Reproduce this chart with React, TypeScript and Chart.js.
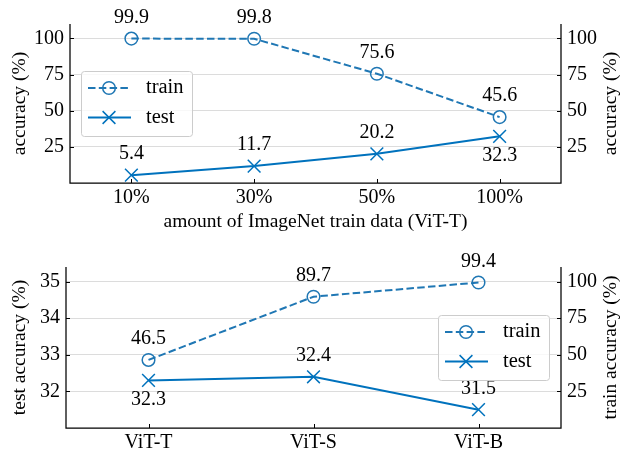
import { useEffect, useRef } from 'react';
import { Chart, registerables } from 'chart.js';

Chart.register(...registerables);

const FONT_FAMILY = '"Liberation Serif", "Times New Roman", serif';
const TICK_SIZE = 20;
const TITLE_SIZE = 19.5;
const LABEL_SIZE = 20;
const LEGEND_SIZE = 20.5;
const TRAIN_COLOR = '#1f77b4';
const TEST_COLOR = '#0072bd';
const GRID_COLOR = '#dcdcdc';

// ---- top panel data ----
const TOP_CATEGORIES = ['10%', '30%', '50%', '100%'];
const TOP_TRAIN = [99.9, 99.8, 75.6, 45.6];
const TOP_TEST = [5.4, 11.7, 20.2, 32.3];
const TOP_TRAIN_LABEL_SIDE = ['above', 'above', 'above', 'above'];
const TOP_TEST_LABEL_SIDE = ['above', 'above', 'above', 'below'];
const TOP_Y_TICKS = [25, 50, 75, 100];
const TOP_Y_MIN = 0;
const TOP_Y_MAX = 110;

// ---- bottom panel data ----
const BOTTOM_CATEGORIES = ['ViT-T', 'ViT-S', 'ViT-B'];
const BOTTOM_TRAIN = [46.5, 89.7, 99.4];
const BOTTOM_TEST = [32.3, 32.4, 31.5];
const BOTTOM_TRAIN_LABEL_SIDE = ['above', 'above', 'above'];
const BOTTOM_TEST_LABEL_SIDE = ['below', 'above', 'above'];
const BOTTOM_LEFT_TICKS = [32, 33, 34, 35];
const BOTTOM_LEFT_MIN = 31;
const BOTTOM_LEFT_MAX = 35.4;
const BOTTOM_RIGHT_TICKS = [25, 50, 75, 100];
const BOTTOM_RIGHT_MIN = 0;
const BOTTOM_RIGHT_MAX = 110;

const W = 621;
const TOP_H = 240;
const BOTTOM_TOP = 226;
const BOTTOM_H = 226;

type DecorCfg = {
  leftTitle: string;
  rightTitle: string;
  xTitle?: string;
  xTitleY?: number;
  legendX: number; // relative to chart area left (if >=0) or right (if <0)
  legendY: number; // relative to chart area top
};

function font(size: number) {
  return `${size}px ${FONT_FAMILY}`;
}

function makeDecor(cfg: DecorCfg) {
  return {
    id: 'decor',
    afterDatasetsDraw(chart: any) {
      const ctx: CanvasRenderingContext2D = chart.ctx;
      const a = chart.chartArea;
      ctx.save();

      // spines
      ctx.strokeStyle = '#000';
      ctx.lineWidth = 1.25;
      ctx.beginPath();
      ctx.moveTo(a.left, a.top);
      ctx.lineTo(a.left, a.bottom);
      ctx.lineTo(a.right, a.bottom);
      ctx.lineTo(a.right, a.top);
      ctx.stroke();

      // inward ticks
      ctx.lineWidth = 1;
      ctx.beginPath();
      const xs = chart.scales.x;
      xs.ticks.forEach((_t: any, i: number) => {
        const px = Math.round(xs.getPixelForTick(i)) + 0.5;
        ctx.moveTo(px, a.bottom);
        ctx.lineTo(px, a.bottom - 4);
      });
      const ys = chart.scales.y;
      ys.ticks.forEach((_t: any, i: number) => {
        const py = Math.round(ys.getPixelForTick(i)) + 0.5;
        ctx.moveTo(a.left, py);
        ctx.lineTo(a.left + 4, py);
      });
      const y2 = chart.scales.y2;
      y2.ticks.forEach((_t: any, i: number) => {
        const py = Math.round(y2.getPixelForTick(i)) + 0.5;
        ctx.moveTo(a.right, py);
        ctx.lineTo(a.right - 4, py);
      });
      ctx.stroke();

      // data labels
      ctx.fillStyle = '#000';
      ctx.font = font(LABEL_SIZE);
      ctx.textAlign = 'center';
      ctx.textBaseline = 'middle';
      chart.data.datasets.forEach((ds: any, di: number) => {
        const meta = chart.getDatasetMeta(di);
        meta.data.forEach((pt: any, j: number) => {
          const side = ds.labelSide[j];
          const off = side === 'above' ? -21 : 19;
          ctx.fillText(Number(ds.data[j]).toFixed(1), pt.x, pt.y + off);
        });
      });

      // axis titles
      ctx.font = font(TITLE_SIZE);
      const midY = (a.top + a.bottom) / 2;
      ctx.save();
      ctx.translate(20, midY);
      ctx.rotate(-Math.PI / 2);
      ctx.fillText(cfg.leftTitle, 0, 0);
      ctx.restore();
      ctx.save();
      ctx.translate(611, midY);
      ctx.rotate(-Math.PI / 2);
      ctx.fillText(cfg.rightTitle, 0, 0);
      ctx.restore();
      if (cfg.xTitle) {
        ctx.fillText(cfg.xTitle, (a.left + a.right) / 2, cfg.xTitleY || 0);
      }

      // legend
      const lw = 111;
      const lh = 65;
      const lx = cfg.legendX >= 0 ? a.left + cfg.legendX : a.right + cfg.legendX - lw;
      const ly = a.top + cfg.legendY;
      ctx.beginPath();
      (ctx as any).roundRect(lx + 0.5, ly + 0.5, lw, lh, 3);
      ctx.fillStyle = 'rgba(255,255,255,0.8)';
      ctx.fill();
      ctx.strokeStyle = '#cccccc';
      ctx.lineWidth = 1;
      ctx.stroke();

      const rows = [
        { label: 'train', color: TRAIN_COLOR, dash: [7.5, 3.3], marker: 'circle' },
        { label: 'test', color: TEST_COLOR, dash: [], marker: 'x' },
      ];
      rows.forEach((r, i) => {
        const cy = ly + 17 + i * 29.5;
        ctx.strokeStyle = r.color;
        ctx.lineWidth = 2;
        ctx.setLineDash(r.dash);
        ctx.beginPath();
        ctx.moveTo(lx + 7, cy);
        ctx.lineTo(lx + 50, cy);
        ctx.stroke();
        ctx.setLineDash([]);
        const mx = lx + 28;
        ctx.lineWidth = 1.5;
        ctx.beginPath();
        if (r.marker === 'circle') {
          ctx.arc(mx, cy, 6.3, 0, Math.PI * 2);
        } else {
          const d = 6.4;
          ctx.moveTo(mx - d, cy - d);
          ctx.lineTo(mx + d, cy + d);
          ctx.moveTo(mx + d, cy - d);
          ctx.lineTo(mx - d, cy + d);
        }
        ctx.stroke();
        ctx.fillStyle = '#000';
        ctx.font = font(LEGEND_SIZE);
        ctx.textAlign = 'left';
        ctx.textBaseline = 'middle';
        ctx.fillText(r.label, lx + 65, cy);
      });

      ctx.restore();
    },
  };
}

function lineDataset(label: string, data: number[], side: string[], color: string, dashed: boolean, yAxisID: string) {
  return {
    label,
    data,
    labelSide: side,
    yAxisID,
    borderColor: color,
    backgroundColor: 'rgba(0,0,0,0)',
    borderWidth: 2,
    borderDash: dashed ? [7.5, 3.3] : [],
    pointStyle: dashed ? 'circle' : 'crossRot',
    pointRadius: dashed ? 6.3 : 9,
    pointHoverRadius: dashed ? 6.3 : 9,
    pointBorderWidth: 1.5,
    pointBorderColor: color,
    pointBackgroundColor: 'rgba(0,0,0,0)',
    tension: 0,
    clip: false as any,
  };
}

function yScale(position: 'left' | 'right', min: number, max: number, ticks: number[], width: number, grid: boolean) {
  return {
    position,
    min,
    max,
    afterBuildTicks: (s: any) => {
      s.ticks = ticks.map((v) => ({ value: v }));
    },
    afterFit: (s: any) => {
      s.width = width;
    },
    grid: { display: grid, drawTicks: false, color: GRID_COLOR, lineWidth: 1 },
    border: { display: false },
    ticks: {
      font: { family: FONT_FAMILY, size: TICK_SIZE },
      color: '#000',
      padding: 6,
      callback: (v: any) => String(v),
    },
  };
}

function xScale(height: number) {
  return {
    type: 'category' as const,
    offset: true,
    afterFit: (s: any) => {
      s.height = height;
    },
    grid: { display: false, drawTicks: false },
    border: { display: false },
    ticks: {
      font: { family: FONT_FAMILY, size: TICK_SIZE },
      color: '#000',
      padding: 3,
      maxRotation: 0,
    },
  };
}

function TopPanel() {
  const ref = useRef<HTMLCanvasElement | null>(null);
  useEffect(() => {
    if (!ref.current) return;
    const chart = new Chart(ref.current, {
      type: 'line',
      data: {
        labels: TOP_CATEGORIES,
        datasets: [
          lineDataset('train', TOP_TRAIN, TOP_TRAIN_LABEL_SIDE, TRAIN_COLOR, true, 'y'),
          lineDataset('test', TOP_TEST, TOP_TEST_LABEL_SIDE, TEST_COLOR, false, 'y'),
        ] as any,
      },
      options: {
        responsive: false,
        animation: false,
        devicePixelRatio: 1,
        layout: { padding: { top: 24, left: 0, right: 0, bottom: 0 } },
        plugins: { legend: { display: false }, tooltip: { enabled: false } },
        scales: {
          x: xScale(TOP_H - 183),
          y: yScale('left', TOP_Y_MIN, TOP_Y_MAX, TOP_Y_TICKS, 70, true),
          y2: yScale('right', TOP_Y_MIN, TOP_Y_MAX, TOP_Y_TICKS, 60, false),
        } as any,
      },
      plugins: [
        makeDecor({
          leftTitle: 'accuracy (%)',
          rightTitle: 'accuracy (%)',
          xTitle: 'amount of ImageNet train data (ViT-T)',
          xTitleY: 222,
          legendX: 11,
          legendY: 47,
        }),
      ],
    });
    return () => chart.destroy();
  }, []);
  return (
    <canvas
      ref={ref}
      width={W}
      height={TOP_H}
      style={{ position: 'absolute', left: 0, top: 0, display: 'block' }}
    />
  );
}

function BottomPanel() {
  const ref = useRef<HTMLCanvasElement | null>(null);
  useEffect(() => {
    if (!ref.current) return;
    const chart = new Chart(ref.current, {
      type: 'line',
      data: {
        labels: BOTTOM_CATEGORIES,
        datasets: [
          lineDataset('train', BOTTOM_TRAIN, BOTTOM_TRAIN_LABEL_SIDE, TRAIN_COLOR, true, 'y2'),
          lineDataset('test', BOTTOM_TEST, BOTTOM_TEST_LABEL_SIDE, TEST_COLOR, false, 'y'),
        ] as any,
      },
      options: {
        responsive: false,
        animation: false,
        devicePixelRatio: 1,
        layout: { padding: { top: 41, left: 0, right: 0, bottom: 0 } },
        plugins: { legend: { display: false }, tooltip: { enabled: false } },
        scales: {
          x: xScale(BOTTOM_H - 202),
          y: yScale('left', BOTTOM_LEFT_MIN, BOTTOM_LEFT_MAX, BOTTOM_LEFT_TICKS, 66, true),
          y2: yScale('right', BOTTOM_RIGHT_MIN, BOTTOM_RIGHT_MAX, BOTTOM_RIGHT_TICKS, 60, false),
        } as any,
      },
      plugins: [
        makeDecor({
          leftTitle: 'test accuracy (%)',
          rightTitle: 'train accuracy (%)',
          legendX: -12,
          legendY: 48,
        }),
      ],
    });
    return () => chart.destroy();
  }, []);
  return (
    <canvas
      ref={ref}
      width={W}
      height={BOTTOM_H}
      style={{ position: 'absolute', left: 0, top: BOTTOM_TOP, display: 'block' }}
    />
  );
}

export default function App() {
  return (
    <div style={{ position: 'absolute', left: 0, top: 0, width: W, height: BOTTOM_TOP + BOTTOM_H, background: '#fff' }}>
      <TopPanel />
      <BottomPanel />
    </div>
  );
}
